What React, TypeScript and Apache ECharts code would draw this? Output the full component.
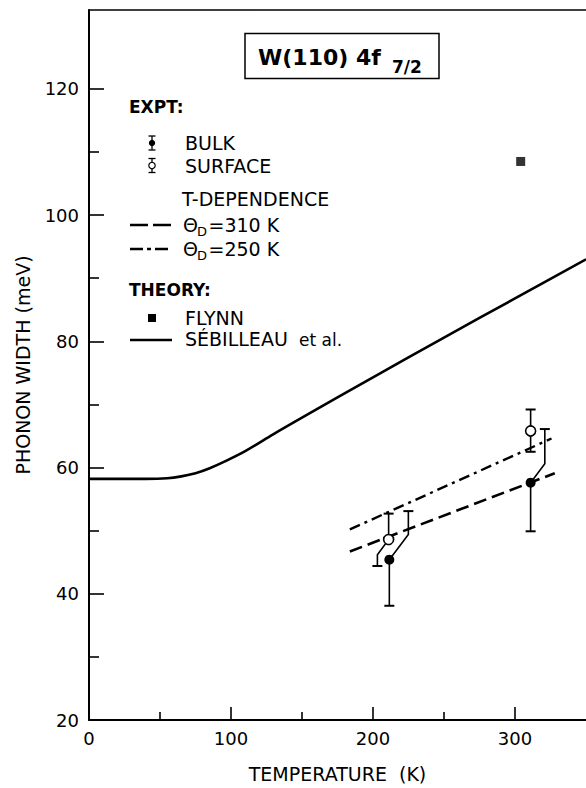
import React, { useEffect, useRef } from "react";
import * as echarts from "echarts";

// ---- data ----
const sebilleauT = [0, 20, 40, 55, 65, 75, 85, 95, 110, 130, 150, 200, 250, 300, 350];
const sebilleauW = [58.2, 58.2, 58.2, 58.3, 58.6, 59.1, 59.9, 60.9, 62.6, 65.3, 67.9, 74.3, 80.6, 86.8, 93.0];

const theta310T = [183.7, 328];
const theta310W = [46.7, 59.1];
const theta250T = [183.7, 325.7];
const theta250W = [50.2, 64.6];

const flynnT = [304];
const flynnW = [108.5];

const bulkT = [211.5, 311];
const bulkW = [45.4, 57.6];
const bulkLow = [38.1, 49.9];
const bulkHigh = [53.1, 66.1];
const bulkLowBarT = [211.5, 311];
const bulkLowKink = [45.4, 57.6];
const bulkHighBarT = [224.9, 321];
const bulkHighKink = [49.4, 60.6];

const surfT = [211, 311];
const surfW = [48.6, 65.8];
const surfLow = [44.4, 62.5];
const surfHigh = [52.7, 69.2];
const surfLowBarT = [203.1, 311];
const surfLowKink = [46.2, 65.8];
const surfHighBarT = [211, 311];
const surfHighKink = [48.6, 65.8];

const xMajorTicks = [0, 100, 200, 300];
const xMinorTicks = [50, 150, 250];
const yMajorTicks = [20, 40, 60, 80, 100, 120];
const yMinorTicks = [30, 50, 70, 90, 110];

const FONT = "DejaVu Sans";

const rows = (t: number[], w: number[], lo: number[], hi: number[], loT: number[], loK: number[], hiT: number[], hiK: number[]) =>
  t.map((v, i) => [v, w[i], lo[i], hi[i], loT[i], loK[i], hiT[i], hiK[i]]);

const bulkRows = rows(bulkT, bulkW, bulkLow, bulkHigh, bulkLowBarT, bulkLowKink, bulkHighBarT, bulkHighKink);
const surfRows = rows(surfT, surfW, surfLow, surfHigh, surfLowBarT, surfLowKink, surfHighBarT, surfHighKink);

const makeErrorRender = (filled: boolean) => (params: any, api: any) => {
  const p = api.coord([api.value(0), api.value(1)]);
  const loK = api.coord([api.value(4), api.value(5)]);
  const lo = api.coord([api.value(4), api.value(2)]);
  const hiK = api.coord([api.value(6), api.value(7)]);
  const hi = api.coord([api.value(6), api.value(3)]);
  const cap = 5;
  const st = { stroke: "#000", lineWidth: 1.6, fill: null };
  return {
    type: "group",
    children: [
      { type: "polyline", shape: { points: [p, loK, lo] }, style: st },
      { type: "polyline", shape: { points: [p, hiK, hi] }, style: st },
      { type: "line", shape: { x1: lo[0] - cap, y1: lo[1], x2: lo[0] + cap, y2: lo[1] }, style: { stroke: "#000", lineWidth: 2 } },
      { type: "line", shape: { x1: hi[0] - cap, y1: hi[1], x2: hi[0] + cap, y2: hi[1] }, style: { stroke: "#000", lineWidth: 2 } },
      {
        type: "circle",
        shape: { cx: p[0], cy: p[1], r: 5 },
        style: filled ? { fill: "#000" } : { fill: "#fff", stroke: "#000", lineWidth: 1.6 },
      },
    ],
  };
};

const txt = (text: string, x: number, y: number, size: number, weight: string = "normal", align: string = "left") => ({
  type: "text",
  x,
  y,
  style: { text, fontSize: size, fontFamily: FONT, fontWeight: weight, fill: "#000", align, verticalAlign: "middle" },
});

const legendMarker = (x: number, y: number, filled: boolean) => ({
  type: "group",
  children: [
    { type: "line", shape: { x1: x, y1: y - 7, x2: x, y2: y + 7 }, style: { stroke: "#000", lineWidth: 1.3 } },
    { type: "line", shape: { x1: x - 3.5, y1: y - 7, x2: x + 3.5, y2: y - 7 }, style: { stroke: "#000", lineWidth: 1.3 } },
    { type: "line", shape: { x1: x - 3.5, y1: y + 7, x2: x + 3.5, y2: y + 7 }, style: { stroke: "#000", lineWidth: 1.3 } },
    {
      type: "circle",
      shape: { cx: x, cy: y, r: 3.2 },
      style: filled ? { fill: "#000" } : { fill: "#fff", stroke: "#000", lineWidth: 1.2 },
    },
  ],
});

const thetaLabel = (y: number, rest: string) => [
  txt("Θ", 183, y, 19),
  txt("D", 197, y + 6, 13),
  txt(rest, 208.5, y, 19),
];

const graphics: any[] = [
  // title box
  { type: "rect", shape: { x: 245, y: 33.5, width: 194, height: 45 }, style: { fill: "#fff", stroke: "#000", lineWidth: 1.5 } },
  txt("W(110) 4f", 258, 57, 22, "bold"),
  txt("7/2", 392, 66.5, 17, "bold"),
  // legend
  txt("EXPT:", 129, 107, 17, "bold"),
  legendMarker(152, 143, true),
  txt("BULK", 185, 143, 19),
  legendMarker(152, 165.5, false),
  txt("SURFACE", 185, 165.5, 19),
  txt("T-DEPENDENCE", 182, 199, 19),
  { type: "line", shape: { x1: 130, y1: 225, x2: 171, y2: 225 }, style: { stroke: "#000", lineWidth: 2.5, lineDash: [18, 5] } },
  ...thetaLabel(225, "=310 K"),
  { type: "line", shape: { x1: 130, y1: 249, x2: 171, y2: 249 }, style: { stroke: "#000", lineWidth: 2.5, lineDash: [13, 4, 4, 4] } },
  ...thetaLabel(249, "=250 K"),
  txt("THEORY:", 129, 290, 17, "bold"),
  { type: "rect", shape: { x: 148, y: 314, width: 8, height: 8 }, style: { fill: "#000" } },
  txt("FLYNN", 185, 318, 19),
  { type: "line", shape: { x1: 130, y1: 340, x2: 172, y2: 340 }, style: { stroke: "#000", lineWidth: 2.5 } },
  txt("SÉBILLEAU", 185, 339, 19),
  txt("et al.", 299, 340, 17),
];

const axisLine = { show: true, lineStyle: { color: "#000", width: 2 } };

const option: any = {
  animation: false,
  backgroundColor: "#fff",
  grid: { left: 89, right: 0, top: 10, bottom: 61, containLabel: false },
  xAxis: [
    {
      type: "value",
      min: 0,
      max: 350,
      position: "bottom",
      axisLine,
      axisTick: { show: true, inside: true, length: 13, customValues: xMajorTicks, lineStyle: { color: "#000", width: 1.6 } },
      axisLabel: { customValues: xMajorTicks, fontSize: 18, fontFamily: FONT, color: "#000", margin: 9 },
      splitLine: { show: false },
      name: "TEMPERATURE  (K)",
      nameLocation: "middle",
      nameGap: 44,
      nameTextStyle: { fontSize: 19, fontFamily: FONT, color: "#000" },
    },
    {
      type: "value",
      min: 0,
      max: 350,
      position: "bottom",
      axisLine: { show: false },
      axisTick: { show: true, inside: true, length: 8, customValues: xMinorTicks, lineStyle: { color: "#000", width: 1.6 } },
      axisLabel: { show: false },
      splitLine: { show: false },
    },
    {
      type: "value",
      min: 0,
      max: 350,
      position: "top",
      axisLine: { show: true, lineStyle: { color: "#000", width: 1.6 } },
      axisTick: { show: false },
      axisLabel: { show: false },
      splitLine: { show: false },
    },
  ],
  yAxis: [
    {
      type: "value",
      min: 20,
      max: 132.5,
      position: "left",
      axisLine,
      axisTick: { show: true, inside: true, length: 15, customValues: yMajorTicks, lineStyle: { color: "#000", width: 1.6 } },
      axisLabel: { customValues: yMajorTicks, fontSize: 18, fontFamily: FONT, color: "#000", margin: 10 },
      splitLine: { show: false },
      name: "PHONON WIDTH (meV)",
      nameLocation: "middle",
      nameGap: 57,
      nameTextStyle: { fontSize: 19, fontFamily: FONT, color: "#000" },
    },
    {
      type: "value",
      min: 20,
      max: 132.5,
      position: "left",
      axisLine: { show: false },
      axisTick: { show: true, inside: true, length: 10, customValues: yMinorTicks, lineStyle: { color: "#000", width: 1.6 } },
      axisLabel: { show: false },
      splitLine: { show: false },
    },
  ],
  series: [
    {
      name: "SÉBILLEAU et al.",
      type: "line",
      data: sebilleauT.map((t, i) => [t, sebilleauW[i]]),
      showSymbol: false,
      smooth: 0.35,
      lineStyle: { color: "#000", width: 2.6 },
      clip: true,
    },
    {
      name: "ΘD=310K",
      type: "line",
      data: theta310T.map((t, i) => [t, theta310W[i]]),
      showSymbol: false,
      lineStyle: { color: "#000", width: 2.6, type: [13, 6] },
    },
    {
      name: "ΘD=250K",
      type: "line",
      data: theta250T.map((t, i) => [t, theta250W[i]]),
      showSymbol: false,
      lineStyle: { color: "#000", width: 2.4, type: [11, 5, 3, 5] },
    },
    {
      name: "FLYNN",
      type: "scatter",
      data: flynnT.map((t, i) => [t, flynnW[i]]),
      symbol: "rect",
      symbolSize: 9,
      itemStyle: { color: "#000" },
    },
    {
      name: "BULK",
      type: "custom",
      renderItem: makeErrorRender(true),
      data: bulkRows,
      encode: { x: 0, y: 1 },
      z: 5,
    },
    {
      name: "SURFACE",
      type: "custom",
      renderItem: makeErrorRender(false),
      data: surfRows,
      encode: { x: 0, y: 1 },
      z: 6,
    },
  ],
  graphic: { elements: graphics },
};

export default function App() {
  const ref = useRef<HTMLDivElement>(null);
  useEffect(() => {
    const chart = echarts.init(ref.current!, null, { renderer: "svg" });
    chart.setOption(option);
    return () => chart.dispose();
  }, []);
  return (
    <div
      ref={ref}
      style={{ position: "fixed", left: 0, top: 0, width: 586, height: 788, background: "#fff" }}
    />
  );
}
